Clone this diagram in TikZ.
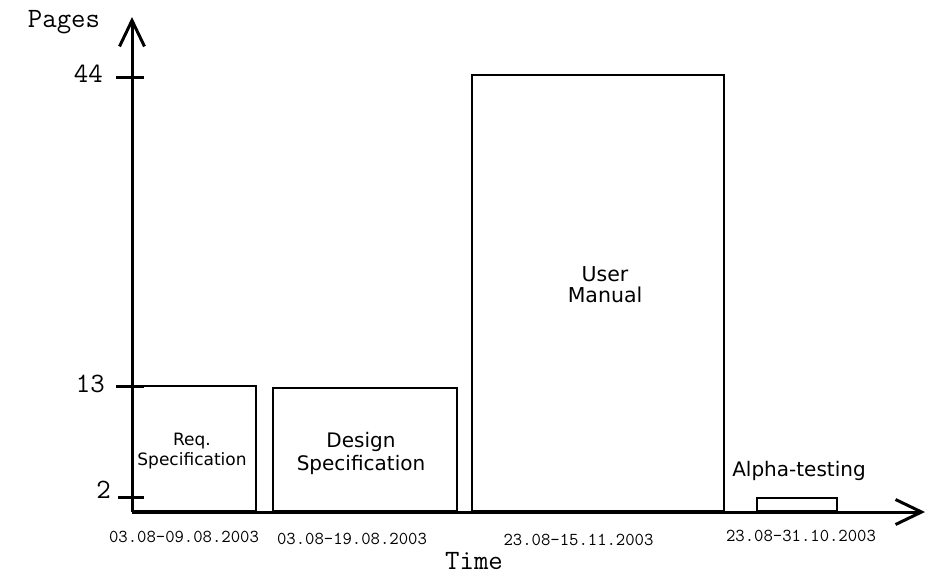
\documentclass[tikz,border=0pt]{standalone}
\usepackage{fontspec}
\setmainfont{DejaVu Sans}
\setmonofont{Latin Modern Mono}
\usetikzlibrary{arrows.meta}
\tikzset{
  axis/.style={line width=3pt, -{Straight Barb[length=26pt,width=25pt,line width=3pt]}},
  tick/.style={line width=3pt},
  bar/.style={draw, line width=2pt, inner sep=0pt},
  lbl/.style={align=center, inner sep=0pt},
  mono/.style={font=\ttfamily\fontsize{18.2}{20}\selectfont, inner sep=0pt},
  big/.style={font=\ttfamily\fontsize{28}{30}\selectfont, inner sep=0pt}
}
\begin{document}
\begin{tikzpicture}[x=1pt,y=-1pt]
\useasboundingbox (0,0) rectangle (935,576);
% axes
\coordinate (o) at (132,512);
\coordinate (ytip) at (132,17);
\coordinate (xtip) at (925,512);
% bars
\node[bar, minimum width=123pt, minimum height=125pt, anchor=south west] (b1) at (132,512) {};
\node[bar, minimum width=184pt, minimum height=123pt, anchor=south west] (b2) at (272,512) {};
\node[bar, minimum width=252pt, minimum height=436pt, anchor=south west] (b3) at (471,512) {};
\node[bar, minimum width=80pt, minimum height=13pt, anchor=south west] (b4) at (756,512) {};
\draw[axis] (o) -- (ytip);
\draw[axis] (o) -- (xtip);
% ticks
\coordinate (t44a) at (116,77); \coordinate (t44b) at (144,77);
\coordinate (t13a) at (116,386); \coordinate (t13b) at (144,386);
\coordinate (t2a) at (118,497); \coordinate (t2b) at (144,497);
\draw[tick] (t44a) -- (t44b);
\draw[tick] (t13a) -- (t13b);
\draw[tick] (t2a) -- (t2b);
\node[big, anchor=base east] (n44) at (103,82) {44};
\node[big, anchor=base east] (n13) at (105,392) {13};
\node[big, anchor=base east] (n2) at (111,498) {2};
\node[big, anchor=base] (pages) at (64,27) {Pages};
\node[big, anchor=base] (time) at (474,569) {Time};
% bar texts
\node[lbl, font=\fontsize{17}{20}\selectfont] (t1) at (192,451) {Req.\\Specification};
\node[lbl, font=\fontsize{20}{23}\selectfont] (t2) at (361,453.5) {Design\\Specification};
\node[lbl, font=\fontsize{20.5}{21}\selectfont] (t3) at (605,285) {User\\Manual};
\node[lbl, font=\fontsize{20}{23}\selectfont, anchor=base] (t4) at (799,476) {Alpha-testing};
% dates
\node[mono] (d1) at (184,537) {03.08-09.08.2003};
\node[mono] (d2) at (352,539) {03.08-19.08.2003};
\node[mono] (d3) at (578.5,540) {23.08-15.11.2003};
\node[mono] (d4) at (801,536) {23.08-31.10.2003};
\end{tikzpicture}
\end{document}
